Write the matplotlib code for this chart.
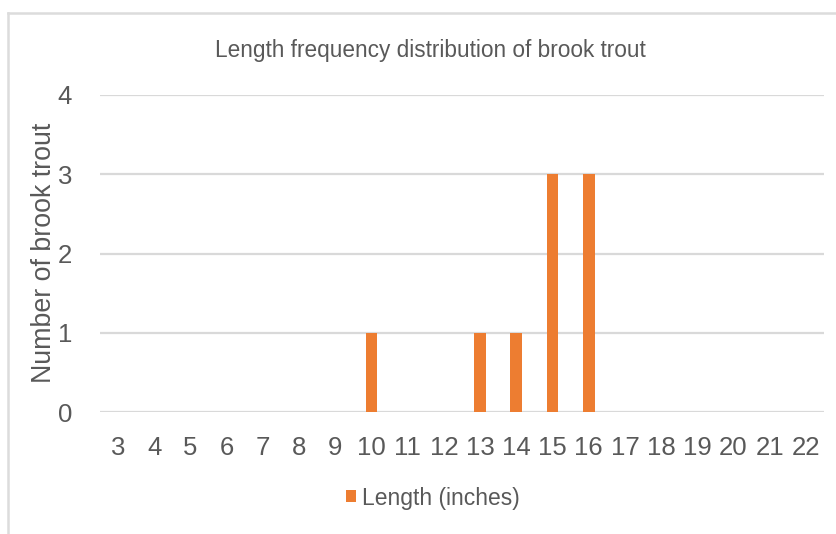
import matplotlib
matplotlib.use("Agg")
import matplotlib.pyplot as plt
from matplotlib.lines import Line2D
from matplotlib.patches import Patch

categories = [str(v) for v in range(3, 23)]
counts = [0, 0, 0, 0, 0, 0, 0, 1, 0, 0, 1, 1, 3, 3, 0, 0, 0, 0, 0, 0]
yticks = [0, 1, 2, 3, 4]
title = "Length frequency distribution of brook trout"
ylabel = "Number of brook trout"
series_name = "Length (inches)"

plt.rcParams['font.family'] = ['Liberation Sans', 'DejaVu Sans']

TXT = "#595959"
GRID = "#d9d9d9"
BAR = "#ED7D31"

W, H = 836, 534
fig = plt.figure(figsize=(W / 100, H / 100), dpi=100)
ax = fig.add_axes([100 / W, (H - 412) / H, 724 / W, 317 / H])

x = list(range(len(categories)))
ax.bar(x, counts, width=0.33, color=BAR, zorder=3, label=series_name)
ax.set_xlim(-0.5, len(categories) - 0.5)
ax.set_ylim(0, 4)
ax.set_yticks(yticks)
ax.set_xticks(x)
ax.set_xticklabels(categories)
ax.yaxis.grid(True, color=GRID, linewidth=1.6, zorder=0)
ax.set_axisbelow(True)
for s in ax.spines.values():
    s.set_visible(False)
ax.tick_params(axis='x', length=0, colors=TXT, labelsize=18.5, pad=17)
ax.tick_params(axis='y', length=0, colors=TXT, labelsize=18.5, pad=20)

fig.text(430 / W, 1 - 50 / H, title, ha='center', va='center', fontsize=16.3, color=TXT)
fig.text(44 / W, 1 - 253 / H, ylabel, ha='center', va='center', rotation=90,
         fontsize=19.3, color=TXT)

handle = Patch(facecolor=BAR, edgecolor='none')
leg = fig.legend([handle], [series_name], loc='center', bbox_to_anchor=(433 / W, 1 - 498 / H),
                 frameon=False, fontsize=16.5, handlelength=0.45, handleheight=0.45,
                 handletextpad=0.25, labelcolor=TXT)

fig.add_artist(Line2D([8 / W, 8 / W], [0, 1 - 12.5 / H], transform=fig.transFigure,
                      color="#dcdcdc", linewidth=1.8))
fig.add_artist(Line2D([8 / W, 1], [1 - 12.5 / H, 1 - 12.5 / H], transform=fig.transFigure,
                      color="#dcdcdc", linewidth=1.8))

fig.savefig("out.png", dpi=100, facecolor="white")
